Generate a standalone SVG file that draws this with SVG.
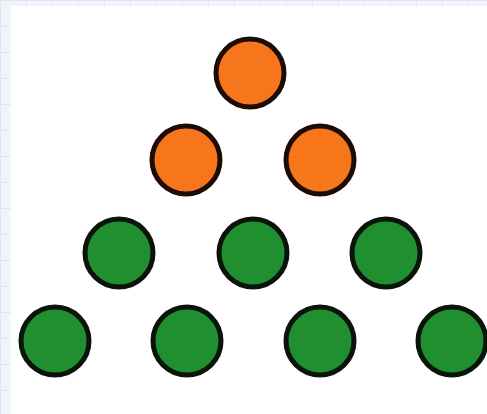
<svg xmlns="http://www.w3.org/2000/svg" width="487" height="414" viewBox="0 0 487 414">
<style>
.o{fill:#f7761c;stroke:#1c0c06;stroke-width:5}
.g{fill:#1f8f2f;stroke:#0a140a;stroke-width:5}
</style>
<defs>
<pattern id="grid" width="26" height="26" patternUnits="userSpaceOnUse">
<path d="M0 0H26M0 0V26" fill="none" stroke="#d6e2ee" stroke-width="1.5"/>
</pattern>
</defs>
<rect width="487" height="414" fill="#f1f5f9"/>
<rect width="487" height="414" fill="url(#grid)"/>
<rect x="11" y="6" width="476" height="408" fill="#ffffff"/>
<g id="r1c1"><circle class="o" cx="250" cy="73" r="34"/></g>
<g id="r2c1"><circle class="o" cx="186" cy="160" r="34"/></g>
<g id="r2c2"><circle class="o" cx="320" cy="160" r="34"/></g>
<g id="r3c1"><circle class="g" cx="119" cy="253" r="34"/></g>
<g id="r3c2"><circle class="g" cx="253" cy="253" r="34"/></g>
<g id="r3c3"><circle class="g" cx="386" cy="253" r="34"/></g>
<g id="r4c1"><circle class="g" cx="55" cy="341" r="34"/></g>
<g id="r4c2"><circle class="g" cx="187" cy="341" r="34"/></g>
<g id="r4c3"><circle class="g" cx="320" cy="341" r="34"/></g>
<g id="r4c4"><circle class="g" cx="452" cy="341" r="34"/></g>
<g id="connectors"></g>
</svg>
